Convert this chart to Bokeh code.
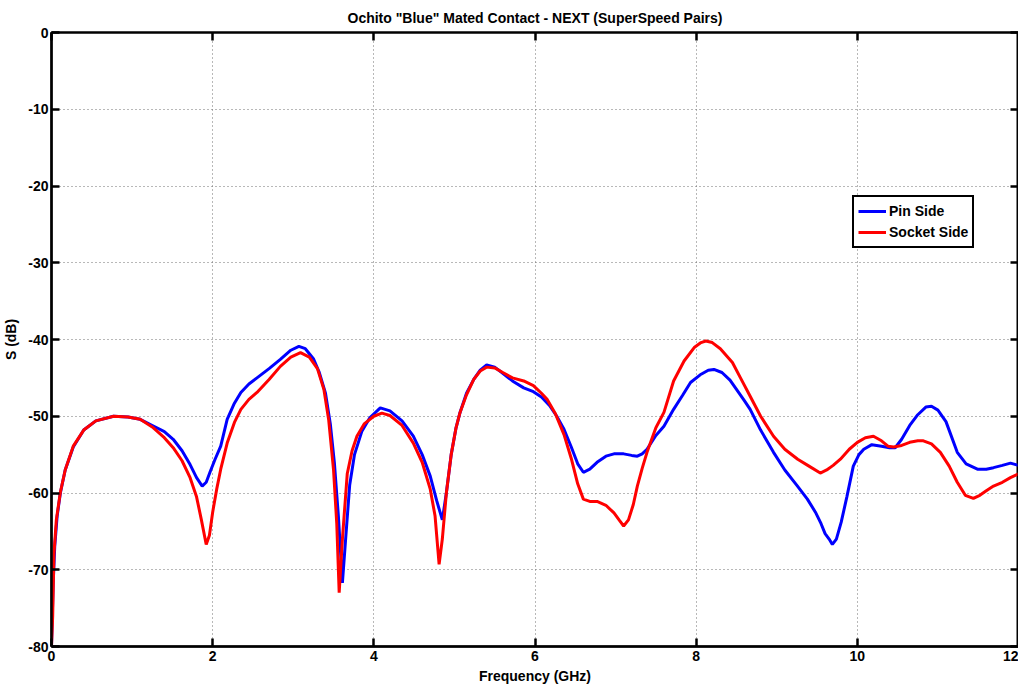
from bokeh.plotting import figure
from bokeh.models import LinearAxis, FixedTicker, Range1d, Legend, LegendItem
from bokeh.embed import file_html
from bokeh.resources import INLINE

# ---------------- data ----------------
title_text = 'Ochito "Blue" Mated Contact - NEXT (SuperSpeed Pairs)'
x_label = "Frequency (GHz)"
y_label = "S (dB)"
x_ticks = [0, 2, 4, 6, 8, 10, 12]
y_ticks = [-80, -70, -60, -50, -40, -30, -20, -10, 0]
y_tick_labels = ["-80", "-70", "-60", "-50", "-40", "-30", "-20", "-10", "0"]

pin_f = [0.0, 0.02, 0.04, 0.07, 0.11, 0.17, 0.27, 0.4, 0.55, 0.77, 0.95, 1.1, 1.27, 1.4, 1.51,
         1.62, 1.72, 1.8, 1.87, 1.92, 1.97, 2.03, 2.1, 2.18, 2.27, 2.35, 2.45, 2.55, 2.7, 2.84,
         2.97, 3.07, 3.15, 3.25, 3.32, 3.4, 3.46, 3.51, 3.56, 3.61, 3.65, 3.7, 3.76, 3.85, 3.95,
         4.08, 4.2, 4.35, 4.49, 4.6, 4.7, 4.78, 4.85, 4.9, 4.96, 5.02, 5.07, 5.15, 5.24, 5.32,
         5.4, 5.5, 5.6, 5.72, 5.86, 5.98, 6.08, 6.18, 6.27, 6.36, 6.45, 6.53, 6.6, 6.68, 6.77,
         6.88, 6.98, 7.1, 7.2, 7.27, 7.33, 7.39, 7.5, 7.6, 7.72, 7.83, 7.93, 8.05, 8.15, 8.22,
         8.32, 8.42, 8.52, 8.6, 8.67, 8.8, 8.96, 9.1, 9.25, 9.38, 9.48, 9.55, 9.6, 9.65, 9.69,
         9.74, 9.8, 9.87, 9.95, 10.02, 10.08, 10.18, 10.3, 10.4, 10.47, 10.55, 10.65, 10.75,
         10.85, 10.92, 11.0, 11.1, 11.24, 11.35, 11.49, 11.6, 11.69, 11.8, 11.9, 12.0]
pin_db = [-80, -72, -67, -63, -60, -57, -54, -51.8, -50.6, -50.0, -50.1, -50.4, -51.3, -52.0, -53.0,
          -54.5, -56.3, -58.0, -59.1, -58.6, -57.2, -55.6, -53.9, -50.4, -48.3, -46.9, -45.8, -45.0, -43.8, -42.6,
          -41.4, -40.9, -41.2, -42.5, -44.2, -47.0, -51.0, -56, -63, -71.7, -66, -59, -55, -52, -50.2,
          -48.9, -49.3, -50.6, -52.6, -55.0, -57.8, -61, -63.5, -60, -55, -51.5, -49.5, -47, -45.2, -44.0,
          -43.3, -43.6, -44.4, -45.4, -46.3, -46.8, -47.5, -48.6, -50.0, -51.7, -54.0, -56.2, -57.3, -56.9, -56.0,
          -55.2, -54.9, -54.9, -55.1, -55.2, -54.9, -54.3, -52.5, -51.3, -49.1, -47.3, -45.6, -44.6, -44.0, -43.9,
          -44.3, -45.3, -46.8, -48.0, -49.1, -51.8, -54.7, -57.0, -59.0, -60.8, -62.5, -64.0, -65.3, -66.0, -66.7,
          -66.0, -63.8, -60.5, -56.5, -55.0, -54.3, -53.7, -53.9, -54.1, -54.1, -53.0, -51.2, -49.8,
          -48.8, -48.7, -49.2, -50.7, -54.7, -56.2, -56.9, -56.9, -56.7, -56.4, -56.1, -56.4]

sock_f = [0.0, 0.015, 0.03, 0.06, 0.11, 0.17, 0.27, 0.4, 0.55, 0.77, 0.95, 1.1, 1.25, 1.4, 1.51,
          1.62, 1.72, 1.8, 1.86, 1.92, 1.96, 2.0, 2.05, 2.1, 2.18, 2.27, 2.35, 2.45, 2.55, 2.7,
          2.84, 2.97, 3.09, 3.2, 3.3, 3.38, 3.44, 3.5, 3.54, 3.57, 3.61, 3.67, 3.73, 3.79, 3.88,
          4.0, 4.1, 4.2, 4.35, 4.49, 4.6, 4.7, 4.76, 4.81, 4.85, 4.9, 4.96, 5.02, 5.07, 5.15,
          5.24, 5.32, 5.4, 5.5, 5.6, 5.72, 5.86, 5.98, 6.08, 6.15, 6.25, 6.36, 6.45, 6.53, 6.6,
          6.68, 6.77, 6.88, 6.98, 7.05, 7.1, 7.16, 7.22, 7.27, 7.33, 7.39, 7.5, 7.6, 7.72, 7.85,
          7.98, 8.06, 8.12, 8.2, 8.3, 8.45, 8.55, 8.67, 8.8, 8.96, 9.1, 9.26, 9.4, 9.54, 9.62,
          9.7, 9.79, 9.9, 10.0, 10.1, 10.2, 10.3, 10.38, 10.45, 10.55, 10.65, 10.75, 10.82, 10.92,
          11.03, 11.14, 11.24, 11.34, 11.44, 11.52, 11.6, 11.69, 11.8, 11.9, 12.0]
sock_db = [-80, -76, -68, -63.5, -59.9, -57, -53.9, -51.8, -50.6, -50.0, -50.1, -50.4, -51.4, -52.8, -54.1,
           -55.8, -58.0, -60.5, -63.5, -66.7, -65.5, -62.5, -59.5, -56.9, -53.5, -50.8, -49.1, -47.8, -46.9, -45.2,
           -43.5, -42.3, -41.7, -42.3, -43.8, -46.5, -50.5, -57, -64, -73.0, -66, -57.5, -54.5, -52.6, -51,
           -50.0, -49.6, -49.9, -51.2, -53.5, -56, -59.5, -63, -69.3, -66, -60, -55, -51.5, -49.5, -47.2,
           -45.2, -44.1, -43.6, -43.7, -44.3, -45.0, -45.4, -46.0, -47.0, -47.8, -49.6, -52.4, -55.5, -58.8, -60.8,
           -61.1, -61.1, -61.6, -62.6, -63.6, -64.3, -63.5, -61.5, -59.1, -56.8, -54.7, -51.5, -49.5, -45.4, -42.8,
           -41.0, -40.4, -40.2, -40.4, -41.2, -43.0, -45.0, -47.4, -50.0, -52.6, -54.3, -55.6, -56.5, -57.4, -57.0,
           -56.4, -55.6, -54.3, -53.4, -52.8, -52.6, -53.2, -53.9, -54.0, -53.8, -53.4, -53.2, -53.2, -53.6,
           -54.7, -56.5, -58.6, -60.3, -60.7, -60.3, -59.7, -59.1, -58.6, -58.0, -57.5]

series_names = ["Pin Side", "Socket Side"]
series_colors = ["#0000ff", "#ff0000"]

FONT = "Liberation Sans"

p = figure(frame_width=967, frame_height=614,
           x_range=Range1d(0, 12), y_range=Range1d(-80, 0),
           output_backend="svg", toolbar_location=None,
           min_border_left=0, min_border_right=0, min_border_top=0, min_border_bottom=0)

p.title.text = title_text
p.title.align = "center"
p.title.text_font = FONT
p.title.text_font_size = "14px"
p.title.text_font_style = "bold"
p.title.text_color = "black"
p.title.standoff = 14

p.outline_line_color = "black"
p.outline_line_width = 2
p.outline_line_alpha = 1

for ax in (p.xaxis[0], p.yaxis[0]):
    ax.major_tick_in = 8
    ax.major_tick_out = 0
    ax.major_tick_line_width = 2.5
    ax.minor_tick_line_color = None
    ax.axis_line_width = 2.5
    ax.major_label_text_font = FONT
    ax.major_label_text_font_size = "14px"
    ax.major_label_text_font_style = "bold"
    ax.major_label_text_color = "black"
    ax.axis_label_text_font = FONT
    ax.axis_label_text_font_size = "14px"
    ax.axis_label_text_font_style = "bold"
    ax.axis_label_text_color = "black"

p.xaxis[0].ticker = FixedTicker(ticks=x_ticks)
p.yaxis[0].ticker = FixedTicker(ticks=y_ticks)
p.yaxis[0].major_label_overrides = dict(zip(y_ticks, y_tick_labels))
p.xaxis[0].axis_label = x_label
p.yaxis[0].axis_label = y_label
p.xaxis[0].major_label_standoff = 4
p.xaxis[0].axis_label_standoff = 4
p.yaxis[0].major_label_standoff = 3
p.yaxis[0].axis_label_standoff = 6

# mirror ticks on top and right (MATLAB box style)
top = LinearAxis(ticker=FixedTicker(ticks=x_ticks),
                 major_label_overrides={t: "" for t in x_ticks})
right = LinearAxis(ticker=FixedTicker(ticks=y_ticks),
                   major_label_overrides={t: "" for t in y_ticks})
for ax in (top, right):
    ax.major_tick_in = 8
    ax.major_tick_out = 0
    ax.major_tick_line_width = 2.5
    ax.minor_tick_line_color = None
    ax.axis_line_width = 2
    ax.major_label_text_font_size = "1px"
top.major_label_standoff = 0
right.major_label_standoff = 6
p.add_layout(top, "above")
p.add_layout(right, "right")

p.xgrid.ticker = FixedTicker(ticks=x_ticks)
p.ygrid.ticker = FixedTicker(ticks=y_ticks)
for g in (p.xgrid[0], p.ygrid[0]):
    g.grid_line_color = "#707070"
    g.grid_line_dash = "1 3"
    g.grid_line_width = 1

r_pin = p.line(pin_f, pin_db, line_color=series_colors[0], line_width=3)
r_sock = p.line(sock_f, sock_db, line_color=series_colors[1], line_width=3)

legend = Legend(items=[LegendItem(label=series_names[0], renderers=[r_pin]),
                       LegendItem(label=series_names[1], renderers=[r_sock])],
                location=(801, 398))
legend.label_text_font = FONT
legend.label_text_font_size = "14px"
legend.label_text_font_style = "bold"
legend.label_text_color = "black"
legend.glyph_width = 28
legend.glyph_height = 20
legend.label_height = 20
legend.label_standoff = 3
legend.spacing = 1
legend.padding = 4
legend.margin = 0
legend.border_line_color = "black"
legend.border_line_alpha = 1
legend.border_line_width = 2
legend.background_fill_color = "white"
legend.background_fill_alpha = 1
p.add_layout(legend, "center")

open("out.html", "w").write(file_html(p, INLINE))
